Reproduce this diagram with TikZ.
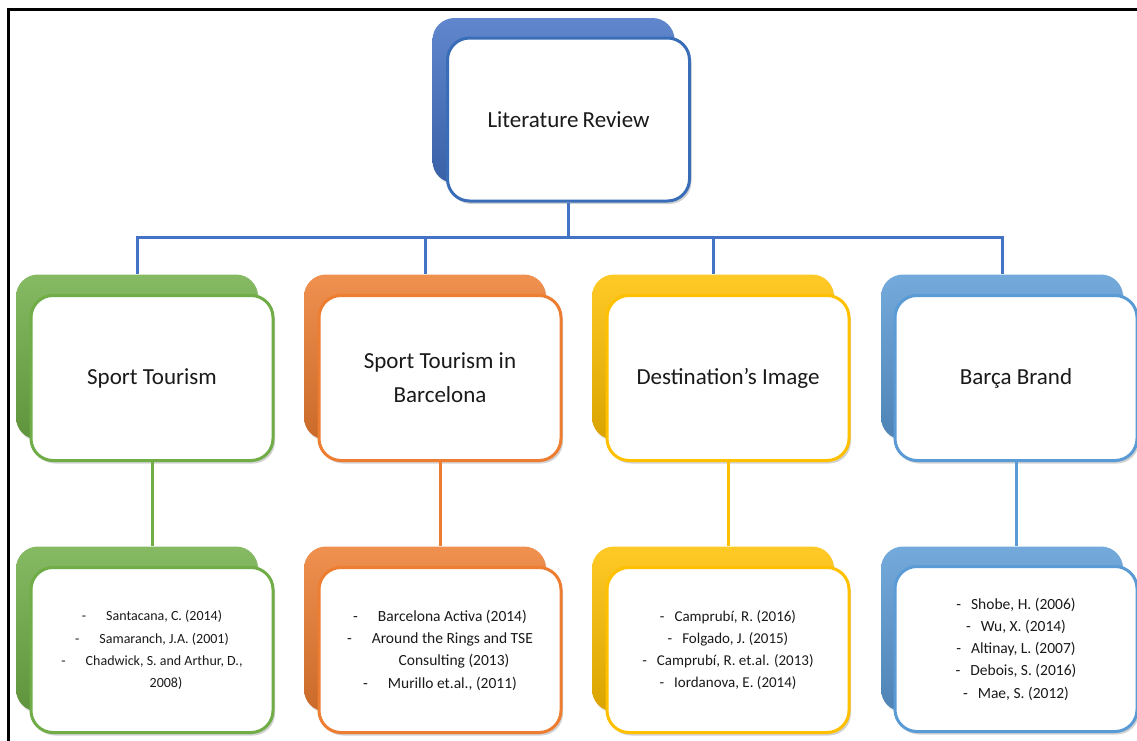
\documentclass[tikz,border=0pt]{standalone}
\usepackage{fontspec}
\setmainfont{Carlito}
\usetikzlibrary{shadows,calc}
\definecolor{cTop}{HTML}{4472C4}
\definecolor{cTopB}{HTML}{3A6DB8}
\definecolor{cGreen}{HTML}{70AD47}
\definecolor{cOrange}{HTML}{ED7D31}
\definecolor{cGold}{HTML}{FFC000}
\definecolor{cLBlue}{HTML}{5B9BD5}
\definecolor{cText}{HTML}{1A1A1A}
\tikzset{
  backbox/.style={rounded corners=22pt, minimum width=242pt, minimum height=165pt,
    inner sep=0pt, top color=#1!85!white, bottom color=#1!85!black,
    drop shadow={opacity=0.2, shadow xshift=1pt, shadow yshift=-2pt}},
  frontbox/.style={rounded corners=22pt, minimum width=242pt, minimum height=165pt,
    inner sep=0pt, draw=#1, line width=3pt, fill=white, text=cText, align=center,
    drop shadow={opacity=0.35, shadow xshift=2pt, shadow yshift=-3pt}},
  bigtxt/.style={font=\fontsize{23}{34}\selectfont},
  smalltxt/.style={font=\fontsize{#1}{22.3}\selectfont},
  conn/.style={draw=#1, line width=3pt},
}
\begin{document}
\begin{tikzpicture}[x=1pt,y=-1pt]
\useasboundingbox (0,0) rectangle (1137,740);
\fill[white] (0,0) rectangle (1137,740);
% frame
\draw[line width=3pt, black] (8.5,745) -- (8.5,9.5) -- (1140,9.5);

% top node
\node[backbox=cTop] (lrb) at (553.5,100.5) {};
\node[frontbox=cTopB, bigtxt, minimum height=163pt] (lr) at (568.5,119.5) {Literature\hspace{4pt}Review};

% level 2 back boxes
\node[backbox=cGreen]  (stb) at (137,357) {};
\node[backbox=cOrange] (bcb) at (425,357) {};
\node[backbox=cGold]   (dib) at (713,357) {};
\node[backbox=cLBlue]  (bbb) at (1002,357) {};
% level 2 front boxes
\node[frontbox=cGreen, bigtxt]  (st) at (152,378) {Sport Tourism};
\node[frontbox=cOrange, bigtxt] (bc) at (440,378) {Sport Tourism in\\Barcelona};
\node[frontbox=cGold, bigtxt]   (di) at (728,378) {Destination’s Image};
\node[frontbox=cLBlue, bigtxt]  (bb) at (1016,378) {Barça Brand};

% level 3 back boxes
\node[backbox=cGreen]  (st3b) at (137,629) {};
\node[backbox=cOrange] (bc3b) at (425,629) {};
\node[backbox=cGold]   (di3b) at (713,629) {};
\node[backbox=cLBlue]  (bb3b) at (1002,629) {};
% level 3 front boxes
\node[frontbox=cGreen, smalltxt=14] (st3) at (152,650)
  {-\hspace{20pt}Santacana, C. (2014)\\
   -\hspace{20pt}Samaranch, J.A. (2001)\\
   -\hspace{20pt}Chadwick, S. and Arthur, D.,\\
   \hspace*{28pt}2008)};
\node[frontbox=cOrange, smalltxt=15.5] (bc3) at (440,650)
  {-\hspace{20pt}Barcelona Activa (2014)\\
   -\hspace{20pt}Around the Rings and TSE\\
   \hspace*{28pt}Consulting (2013)\\
   -\hspace{20pt}Murillo et.al., (2011)};
\node[frontbox=cGold, smalltxt=15] (di3) at (728,650)
  {-\hspace{10pt}Camprubí, R. (2016)\\
   -\hspace{10pt}Folgado, J. (2015)\\
   -\hspace{10pt}Camprubí, R. et.al. (2013)\\
   -\hspace{10pt}Iordanova, E. (2014)};
\node[frontbox=cLBlue, smalltxt=15.5] (bb3) at (1016,649)
  {-\hspace{10pt}Shobe, H. (2006)\\
   -\hspace{10pt}Wu, X. (2014)\\
   -\hspace{10pt}Altinay, L. (2007)\\
   -\hspace{10pt}Debois, S. (2016)\\
   -\hspace{10pt}Mae, S. (2012)};

% connectors top -> level 2
\coordinate (hub) at (568.5,237);
\draw[conn=cTop] (lr.south) -- (hub);
\draw[conn=cTop] (hub) -| (stb.north);
\draw[conn=cTop] (hub) -| (bcb.north);
\draw[conn=cTop] (hub) -| (dib.north);
\draw[conn=cTop] (hub) -| (bbb.north);
% connectors level 2 -> level 3
\draw[conn=cGreen]  (st.south) -- (st.south |- st3b.north);
\draw[conn=cOrange] (bc.south) -- (bc.south |- bc3b.north);
\draw[conn=cGold]   (di.south) -- (di.south |- di3b.north);
\draw[conn=cLBlue]  (bb.south) -- (bb.south |- bb3b.north);
\end{tikzpicture}
\end{document}
